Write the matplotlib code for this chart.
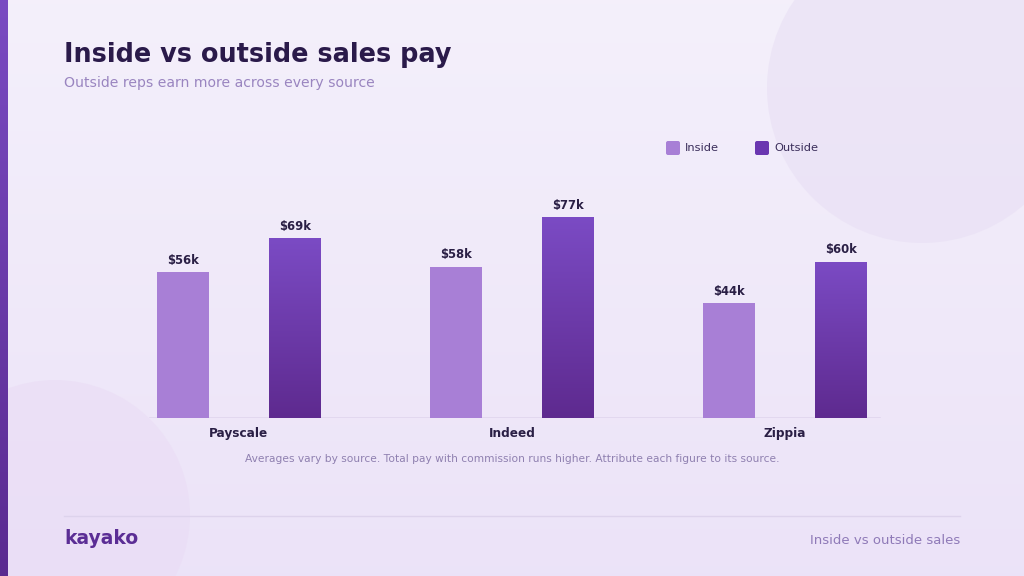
import numpy as np
import matplotlib
matplotlib.use("Agg")
from matplotlib import pyplot as plt
from matplotlib.patches import Circle, FancyBboxPatch

sources = ["Payscale", "Indeed", "Zippia"]
inside = [56, 58, 44]
outside = [69, 77, 60]
series_names = ["Inside", "Outside"]

W, H = 1024, 576
fig = plt.figure(figsize=(W / 100, H / 100), dpi=100)

# background layer in pixel coords
bg = fig.add_axes([0, 0, 1, 1])
bg.axis("off")
grad = np.linspace(0, 1, 256).reshape(-1, 1)
top_c = np.array([0.957, 0.941, 0.984])
bot_c = np.array([0.925, 0.890, 0.973])
img = top_c + (bot_c - top_c) * grad[..., None]
bg.imshow(img, extent=[0, W, H, 0], aspect="auto", zorder=0)
bg.add_patch(Circle((922, 88), 155, color="#e8dff4", alpha=0.6, lw=0, zorder=1))
bg.add_patch(Circle((55, 515), 135, color="#eadcf5", alpha=0.6, lw=0, zorder=1))
s_top = np.array([0.478, 0.294, 0.761])
s_bot = np.array([0.353, 0.165, 0.565])
stripe = s_top + (s_bot - s_top) * grad[..., None]
bg.imshow(stripe, extent=[0, 8, H, 0], aspect="auto", zorder=2)
bg.set_xlim(0, W)
bg.set_ylim(H, 0)

bg.text(64, 55, "Inside vs outside sales pay", fontsize=18.4, fontweight="bold",
        color="#2a1a4a", va="center", ha="left")
bg.text(64, 83, "Outside reps earn more across every source", fontsize=10.1,
        color="#9a85c0", va="center", ha="left")

# legend
leg_cols = ["#a87fd6", "#6a36b0"]
for lx, name, c in zip([666, 755], series_names, leg_cols):
    bg.add_patch(FancyBboxPatch((lx, 141), 14, 14, boxstyle="round,pad=0,rounding_size=2",
                                color=c, lw=0, zorder=3))
    bg.text(lx + 19, 148, name, fontsize=8.2, color="#3a2d5a", va="center", ha="left")

bg.text(512, 459, "Averages vary by source. Total pay with commission runs higher. "
        "Attribute each figure to its source.", fontsize=7.65, color="#8f80b0",
        ha="center", va="center")
bg.plot([64, 960], [516, 516], color="#ddd3ec", lw=1, zorder=3)
bg.text(64, 539, "kayako", fontsize=13.5, fontweight="bold", color="#5b2d95",
        va="center", ha="left")
bg.text(960, 541, "Inside vs outside sales", fontsize=9.5, color="#8f7ab8",
        va="center", ha="right")

# chart axes
ax = fig.add_axes([130 / W, (H - 418) / H, (894 - 130) / W, (418 - 180) / H])
ax.patch.set_alpha(0)
x0 = (239 - 130) / 273.0
xlim = (-x0, -x0 + (894 - 130) / 273.0)
ylim = (0, 238 / 2.607)
ax.axis("off")

x = np.arange(len(sources))
bw = 52 / 273.0
off = 56 / 273.0
ax.bar(x - off, inside, width=bw, color="#a87fd6", zorder=2)
out_bars = ax.bar(x + off, outside, width=bw, color="#6a36b0", zorder=2)
o_top = np.array([0.482, 0.294, 0.769])
o_bot = np.array([0.369, 0.165, 0.561])
og = o_top + (o_bot - o_top) * grad[..., None]
for b in out_bars:
    bx, by = b.get_x(), b.get_height()
    im = ax.imshow(og, extent=[bx, bx + b.get_width(), 0, by], aspect="auto", zorder=3)
    im.set_clip_path(b)
ax.set_xlim(*xlim)
ax.set_ylim(*ylim)

for xi, v in zip(x - off, inside):
    ax.text(xi, v + 4.6, f"${v}k", ha="center", va="center", fontsize=8.4,
            fontweight="bold", color="#2a1f45")
for xi, v in zip(x + off, outside):
    ax.text(xi, v + 4.6, f"${v}k", ha="center", va="center", fontsize=8.4,
            fontweight="bold", color="#2a1f45")

ax.axhline(0, xmin=20 / 764, xmax=750 / 764, color="#e0d6ee", lw=1.2, zorder=1)
for xi, name in zip(x, sources):
    ax.text(xi, -6, name, ha="center", va="center", fontsize=8.7,
            fontweight="bold", color="#2a1f45")

fig.savefig("out.png", dpi=100)
